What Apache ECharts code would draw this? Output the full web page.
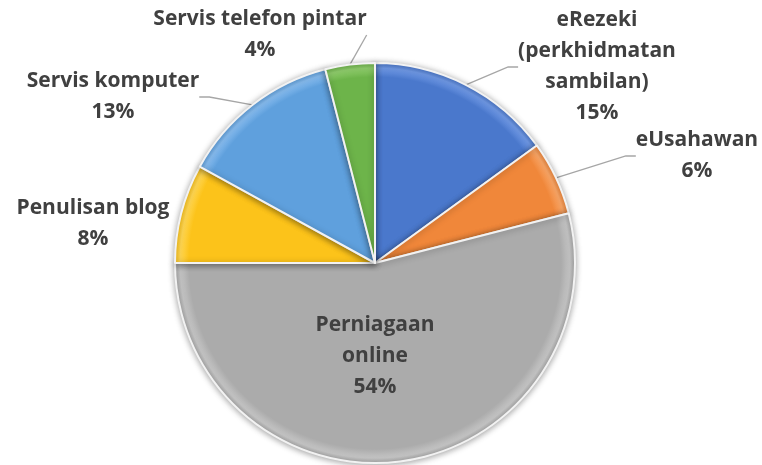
<!DOCTYPE html>
<html>
<head>
<meta charset="utf-8">
<script src="https://cdn.jsdelivr.net/npm/echarts@6/dist/echarts.min.js"></script>
<style>
  html, body { margin: 0; padding: 0; background: #fff; }
  #main { width: 762px; height: 465px; }
</style>
</head>
<body>
<div id="main"></div>
<script>
// data
var categories = ['eRezeki\n(perkhidmatan\nsambilan)', 'eUsahawan', 'Perniagaan\nonline', 'Penulisan blog', 'Servis komputer', 'Servis telefon pintar'];
var values = [15, 6, 54, 8, 13, 4];
var colors = ['#4a78cc', '#f0873a', '#ababab', '#fcc31a', '#5fa0dd', '#6db44a'];
var rimColors = ['#6f98e4', '#f8a566', '#c4c4c4', '#ffd652', '#86bbee', '#8fcc6c'];
// where each label sits (centre of text block)
var labelPos = [[597, 67], [697, 156], [375, 356], [93, 224], [113, 97], [260, 35]];

var cx = 375, cy = 263, R = 200;

// soft bevel look: lighter rim on the outer edge
function fill(i) {
  return {
    type: 'radial', x: cx, y: cy, r: R, global: true,
    colorStops: [
      { offset: 0, color: colors[i] },
      { offset: 0.93, color: colors[i] },
      { offset: 0.975, color: rimColors[i] },
      { offset: 1, color: colors[i] }
    ]
  };
}

var chart = echarts.init(document.getElementById('main'));
chart.setOption({
  backgroundColor: '#fff',
  animation: false,
  series: [{
    type: 'pie',
    center: [cx, cy],
    radius: R,
    startAngle: 90,
    clockwise: true,
    itemStyle: {
      borderColor: '#f2f2f2',
      borderWidth: 2,
      shadowBlur: 6,
      shadowColor: 'rgba(0,0,0,0.35)',
      shadowOffsetY: 1
    },
    label: {
      show: true,
      formatter: '{b}\n{c}%',
      fontFamily: 'Open Sans',
      fontWeight: 'bold',
      fontSize: 21,
      lineHeight: 31,
      color: '#404040',
      align: 'center',
      overflow: 'none'
    },
    labelLine: {
      show: true,
      length: 20,
      length2: 10,
      lineStyle: { color: '#a6a6a6', width: 1.3 }
    },
    labelLayout: function (p) {
      var pos = labelPos[p.dataIndex];
      return {
        x: pos[0],
        y: pos[1],
        align: 'center',
        verticalAlign: 'middle'
      };
    },
    data: categories.map(function (c, i) {
      var d = { name: c, value: values[i], itemStyle: { color: fill(i) } };
      if (i === 2 || i === 3) d.labelLine = { show: false };
      return d;
    })
  }]
});
</script>
</body>
</html>
